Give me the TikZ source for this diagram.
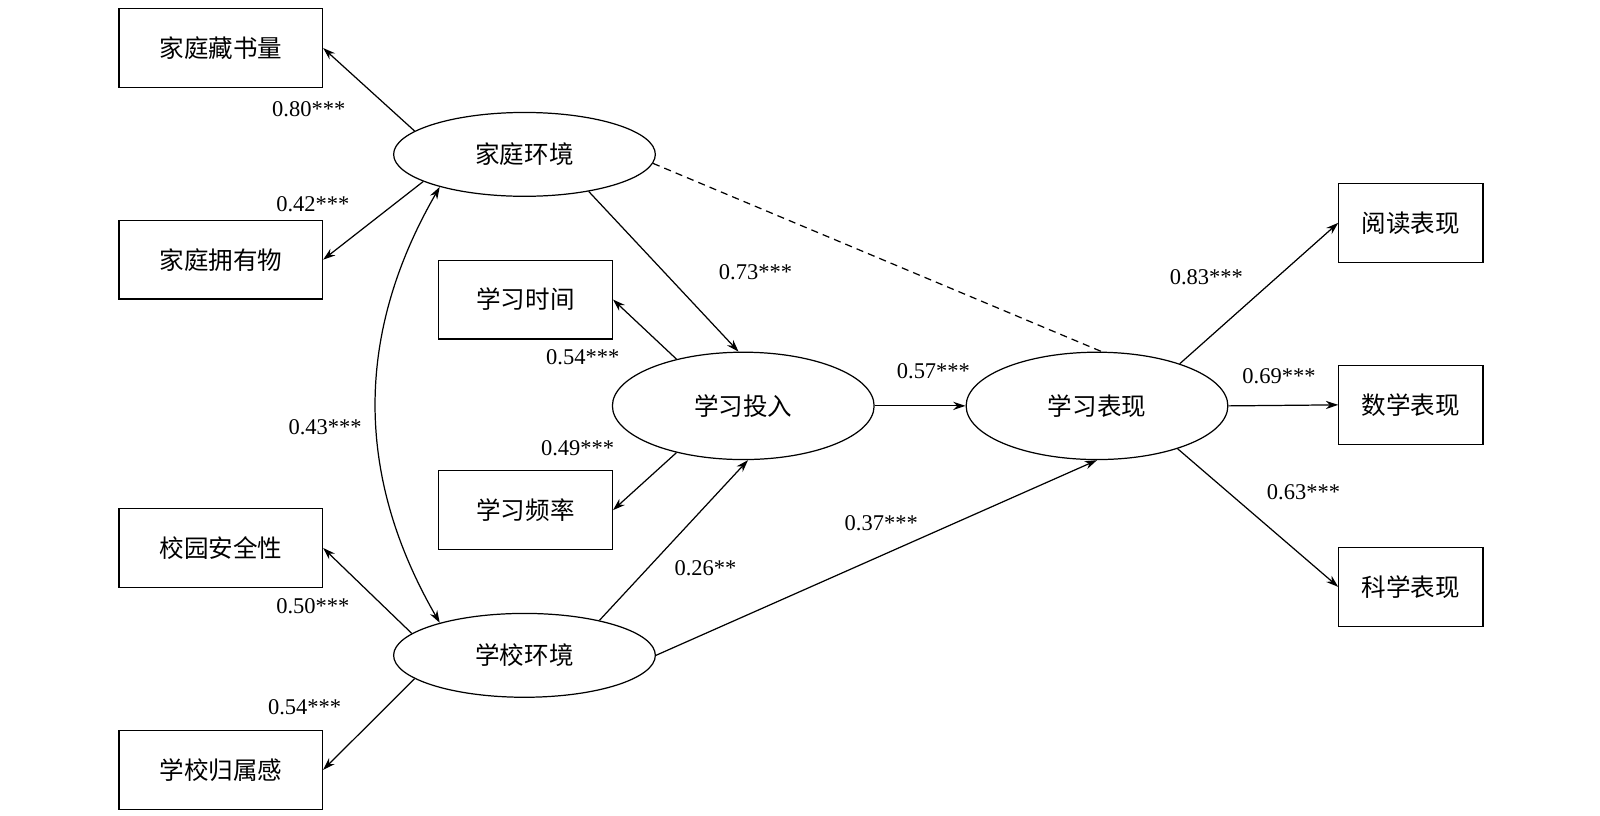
\documentclass[tikz,border=0pt]{standalone}
\usepackage{fontspec}
\setmainfont{Liberation Serif}
\newfontfamily\cjk{Noto Sans CJK SC}
\usetikzlibrary{shapes.geometric,arrows.meta}
\begin{document}
\begin{tikzpicture}[x=1pt,y=-1pt,
  box/.style={draw,line width=1.2pt,minimum width=199pt,minimum height=77pt,font=\cjk\fontsize{24}{28}\selectfont},
  sbox/.style={box,minimum width=170pt},
  rbox/.style={box,minimum width=141pt},
  ell/.style={draw,ellipse,line width=1.2pt,minimum width=256pt,minimum height=82pt,font=\cjk\fontsize{24}{28}\selectfont},
  bell/.style={ell,minimum height=105pt},
  arr/.style={line width=1.2pt,-{Stealth[length=12pt,width=8pt]}},
  barr/.style={line width=1.2pt,{Stealth[length=12pt,width=8pt]}-{Stealth[length=12pt,width=8pt]}},
  lab/.style={font=\fontsize{22}{26}\selectfont}]
\useasboundingbox (0,0) rectangle (1565,798);
\node[box] (hb) at (216,47) {家庭藏书量};
\node[box] (hp) at (216,254) {家庭拥有物};
\node[sbox] (st) at (514,293) {学习时间};
\node[sbox] (sf) at (514,499) {学习频率};
\node[box] (cs) at (216,536) {校园安全性};
\node[box] (sb) at (216,753) {学校归属感};
\node[rbox] (rd) at (1380,218) {阅读表现};
\node[rbox] (ma) at (1380,396) {数学表现};
\node[rbox] (sc) at (1380,574) {科学表现};
\node[ell] (fam) at (513,151) {家庭环境};
\node[ell] (sch) at (513,641) {学校环境};
\node[bell] (inv) at (727,397) {学习投入};
\node[bell] (perf) at (1073,397) {学习表现};
\draw[arr] (fam.168) -- (hb.east);
\draw[arr] (fam.195) -- (hp.east);
\draw[arr] (inv.145) -- (st.east);
\draw[arr] (inv.215) -- (sf.east);
\draw[arr] (sch.169) -- (cs.east);
\draw[arr] (sch.192) -- (sb.east);
\draw[barr] (fam.201) to[out=240,in=120] (sch.159);
\draw[arr] (fam.330) -- (inv.95);
\draw[arr] (sch.25) -- (inv.275);
\draw[arr] (inv.east) -- (perf.west);
\draw[arr] (sch.east) -- (perf.270);
\draw[line width=1.2pt,dash pattern=on 7pt off 5pt] (fam.356) -- (perf.85);
\draw[arr] (perf.27) -- (rd.west);
\draw[arr] (perf.east) -- (ma.west);
\draw[arr] (perf.332) -- (sc.west);
\node[lab] (l1) at (302,107) {0.80***};
\node[lab] (l2) at (306,200) {0.42***};
\node[lab] (l3) at (570,349) {0.54***};
\node[lab] (l4) at (565,438) {0.49***};
\node[lab] (l5) at (318,418) {0.43***};
\node[lab] (l6) at (306,593) {0.50***};
\node[lab] (l7) at (298,692) {0.54***};
\node[lab] (l8) at (739,266) {0.73***};
\node[lab] (l9) at (690,556) {0.26**};
\node[lab] (l10) at (913,363) {0.57***};
\node[lab] (l11) at (862,512) {0.37***};
\node[lab] (l12) at (1180,271) {0.83***};
\node[lab] (l13) at (1251,368) {0.69***};
\node[lab] (l14) at (1275,481) {0.63***};
\end{tikzpicture}
\end{document}
